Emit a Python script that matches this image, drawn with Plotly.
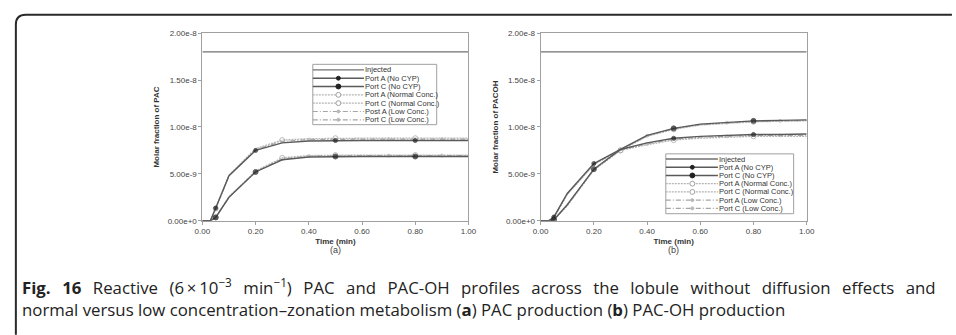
import plotly.graph_objects as go

W, H = 956, 335

# ---------------- data ----------------
time_min = [0.0, 0.03, 0.05, 0.1, 0.2, 0.3, 0.4, 0.5, 0.6, 0.7, 0.8, 0.9, 1.0]
injected_level = 1.8e-8

# Panel (a) PAC (units e-9)
pac_portA_nocyp = [0, 0, 1.35, 4.8, 7.5, 8.3, 8.5, 8.55, 8.55, 8.55, 8.55, 8.55, 8.55]
pac_portC_nocyp = [0, 0, 0.35, 2.5, 5.2, 6.5, 6.8, 6.85, 6.85, 6.85, 6.85, 6.85, 6.85]
pac_portA_normal = [0, 0, 1.3, 4.85, 7.7, 8.6, 8.75, 8.8, 8.8, 8.8, 8.8, 8.8, 8.8]
pac_portC_normal = [0, 0, 0.35, 2.55, 5.3, 6.7, 6.95, 7.0, 7.0, 7.0, 7.0, 7.0, 7.0]
pac_portA_low = [0, 0, 1.3, 4.8, 7.6, 8.45, 8.65, 8.7, 8.7, 8.7, 8.7, 8.7, 8.7]
pac_portC_low = [0, 0, 0.35, 2.5, 5.25, 6.6, 6.9, 6.95, 6.95, 6.95, 6.95, 6.95, 6.95]

# Panel (b) PAC-OH (units e-9)
pacoh_portA_nocyp = [0, 0, 0.4, 2.9, 6.1, 7.6, 8.3, 8.8, 9.0, 9.1, 9.2, 9.2, 9.25]
pacoh_portC_nocyp = [0, 0, 0.1, 1.7, 5.5, 7.6, 9.1, 9.85, 10.3, 10.5, 10.65, 10.7, 10.75]
pacoh_portA_normal = [0, 0, 0.3, 2.8, 6.0, 7.5, 8.1, 8.6, 8.8, 8.9, 9.0, 9.0, 9.0]
pacoh_portC_normal = [0, 0, 0.1, 1.6, 5.4, 7.5, 9.0, 9.75, 10.2, 10.4, 10.55, 10.6, 10.65]
pacoh_portA_low = [0, 0, 0.35, 2.85, 6.05, 7.55, 8.2, 8.7, 8.9, 9.0, 9.1, 9.1, 9.1]
pacoh_portC_low = [0, 0, 0.1, 1.65, 5.45, 7.55, 9.05, 9.8, 10.25, 10.45, 10.6, 10.65, 10.7]

series_names = ["Injected", "Port A (No CYP)", "Port C (No CYP)", "Port A (Normal Conc.)",
                "Port C (Normal Conc.)", "Post A (Low Conc.)", "Port C (Low Conc.)"]
series_names_b = ["Injected", "Port A (No CYP)", "Port C (No CYP)", "Port A (Normal Conc.)",
                  "Port C (Normal Conc.)", "Port A (Low Conc.)", "Port C (Low Conc.)"]

marker_times_nocyp = [0.05, 0.2, 0.5, 0.8]
marker_times_normal = [0.05, 0.3, 0.5, 0.8]
marker_times_low = [0.05, 0.4, 0.7, 0.9]

y_tickvals = [0, 5e-9, 1e-8, 1.5e-8, 2e-8]
y_ticktext = ["0.00e+0", "5.00e-9", "1.00e-8", "1.50e-8", "2.00e-8"]
x_tickvals = [0, 0.2, 0.4, 0.6, 0.8, 1.0]
x_ticktext = ["0.00", "0.20", "0.40", "0.60", "0.80", "1.00"]

caption_line1_words = ["<b>Fig.</b>", "<b>16</b>", "Reactive",
                       "(6\u2009×\u200910<sup>\u22123</sup>", "min<sup>\u22121</sup>)", "PAC", "and",
                       "PAC-OH", "profiles", "across", "the", "lobule", "without", "diffusion",
                       "effects", "and"]
caption_line2 = ("normal versus low concentration\u2013zonation metabolism (<b>a</b>) PAC production "
                 "(<b>b</b>) PAC-OH production")

# ---------------- styles ----------------
STY = {
    "inj": dict(color="#707070", width=1.3, dash="solid"),
    "nocyp": dict(color="#5a5a5a", width=1.4, dash="solid"),
    "normal": dict(color="#b4b4b4", width=1.3, dash="2px,1px"),
    "low": dict(color="#a6a6a6", width=1.2, dash="5px,2px,1px,2px"),
}
MK = {
    "nocypA": dict(symbol="circle", color="#222", size=4),
    "nocypC": dict(symbol="circle", color="#222", size=5),
    "normal": dict(symbol="circle-open", color="#a0a0a0", size=5),
    "low": dict(symbol="circle", color="#b8b8b8", size=3),
}


def px2x(p):
    return p / W


def px2y(p):
    return 1 - p / H


fig = go.Figure()


def sizes(times, size):
    return [size if any(abs(t - m) < 1e-9 for m in times) else 0 for t in time_min]


def add_panel(xa, ya, data):
    fig.add_trace(go.Scatter(x=[0, 1], y=[injected_level] * 2, mode="lines",
                             line=STY["inj"], xaxis=xa, yaxis=ya, showlegend=False))
    for vals, sty, mk, mt in data:
        fig.add_trace(go.Scatter(
            x=time_min, y=[v * 1e-9 for v in vals], mode="lines+markers",
            line=STY[sty],
            marker=dict(symbol=MK[mk]["symbol"], color=MK[mk]["color"],
                        size=sizes(mt, MK[mk]["size"]), line=dict(width=1, color=MK[mk]["color"])),
            xaxis=xa, yaxis=ya, showlegend=False))


add_panel("x", "y", [
    (pac_portA_normal, "normal", "normal", marker_times_normal),
    (pac_portC_normal, "normal", "normal", marker_times_normal),
    (pac_portA_low, "low", "low", marker_times_low),
    (pac_portC_low, "low", "low", marker_times_low),
    (pac_portA_nocyp, "nocyp", "nocypA", marker_times_nocyp),
    (pac_portC_nocyp, "nocyp", "nocypC", marker_times_nocyp),
])
add_panel("x2", "y2", [
    (pacoh_portA_normal, "normal", "normal", marker_times_normal),
    (pacoh_portC_normal, "normal", "normal", marker_times_normal),
    (pacoh_portA_low, "low", "low", marker_times_low),
    (pacoh_portC_low, "low", "low", marker_times_low),
    (pacoh_portA_nocyp, "nocyp", "nocypA", marker_times_nocyp),
    (pacoh_portC_nocyp, "nocyp", "nocypC", marker_times_nocyp),
])

axis_common = dict(showline=True, mirror=True, linecolor="#a0a0a0", linewidth=1,
                   ticks="outside", ticklen=3, tickcolor="#a0a0a0", showgrid=False,
                   zeroline=False, tickfont=dict(family="Liberation Sans, Arial", size=8, color="#444"))
title_font = dict(family="Liberation Sans, Arial", size=8, color="#333")

ya_dom = [px2y(222.7), px2y(30)]
fig.update_layout(
    width=W, height=H, margin=dict(l=0, r=0, t=0, b=0),
    paper_bgcolor="white", plot_bgcolor="white",
    xaxis=dict(domain=[px2x(197.7), px2x(468.3)], range=[0, 1], tickvals=x_tickvals, ticktext=x_ticktext,
               anchor="y", title=dict(text="<b>Time (min)</b>", font=title_font, standoff=3), **axis_common),
    yaxis=dict(domain=ya_dom, range=[0, 2e-8], tickvals=y_tickvals, ticktext=y_ticktext, anchor="x",
               title=dict(text="<b>Molar fraction of PAC</b>", font=title_font, standoff=6), **axis_common),
    xaxis2=dict(domain=[px2x(541.7), px2x(812.3)], range=[0, 1], tickvals=x_tickvals, ticktext=x_ticktext,
                anchor="y2", title=dict(text="<b>Time (min)</b>", font=title_font, standoff=3), **axis_common),
    yaxis2=dict(domain=ya_dom, range=[0, 2e-8], tickvals=y_tickvals, ticktext=y_ticktext, anchor="x2",
                title=dict(text="<b>Molar fraction of PACOH</b>", font=title_font, standoff=6), **axis_common),
)

shapes = []
annotations = []

# manual legends
legend_styles = [("inj", None), ("nocyp", "nocypA"), ("nocyp", "nocypC"), ("normal", "normal"),
                 ("normal", "normal"), ("low", "low"), ("low", "low")]


def add_legend(x0, x1, y0, y1, xtext, xmark, row0, dy, names):
    shapes.append(dict(type="rect", xref="paper", yref="paper", x0=px2x(x0), x1=px2x(x1),
                       y0=px2y(y1), y1=px2y(y0), line=dict(color="#a0a0a0", width=1),
                       fillcolor="white", layer="above"))
    for i, (name, (sty, mk)) in enumerate(zip(names, legend_styles)):
        yy = row0 + i * dy
        shapes.append(dict(type="line", xref="paper", yref="paper", x0=px2x(x0), x1=px2x(xtext),
                           y0=px2y(yy), y1=px2y(yy),
                           line=dict(color=STY[sty]["color"], width=STY[sty]["width"], dash=STY[sty]["dash"]),
                           layer="above"))
        if mk:
            r = MK[mk]["size"] / 2
            filled = MK[mk]["symbol"] == "circle"
            shapes.append(dict(type="circle", xref="paper", yref="paper",
                               x0=px2x(xmark - r), x1=px2x(xmark + r), y0=px2y(yy + r), y1=px2y(yy - r),
                               line=dict(color=MK[mk]["color"], width=1),
                               fillcolor=MK[mk]["color"] if filled else "white", layer="above"))
        annotations.append(dict(text=name, xref="paper", yref="paper", x=px2x(xtext - 1), y=px2y(yy),
                                xanchor="left", yanchor="middle", showarrow=False,
                                font=dict(family="Liberation Sans, Arial", size=7.5, color="#333")))


add_legend(310, 436, 62, 124, 362, 336, 67.7, 8.55, series_names)
add_legend(669, 799, 154, 215.5, 722, 696, 159.3, 8.45, series_names_b)

# panel labels
for txt, xp in [("(a)", 333), ("(b)", 677)]:
    annotations.append(dict(text=txt, xref="paper", yref="paper", x=px2x(xp), y=px2y(253),
                            xanchor="center", yanchor="middle", showarrow=False,
                            font=dict(family="Liberation Sans, Arial", size=9, color="#444")))

# caption (line 1 justified with widened word gaps)
cap_font = dict(family="Open Sans", size=16.8, color="#222")
annotations.append(dict(
    text=" \u00a0\u2009".join(caption_line1_words),
    xref="paper", yref="paper", x=px2x(12), y=px2y(290), xanchor="left", yanchor="middle",
    showarrow=False, font=cap_font))
annotations.append(dict(
    text=caption_line2,
    xref="paper", yref="paper", x=px2x(12), y=px2y(314), xanchor="left", yanchor="middle",
    showarrow=False, font=cap_font))

# outer frame with rounded top-left corner
rr = 10
path = (f"M {px2x(8)},{px2y(340)} L {px2x(8)},{px2y(11 + rr)} "
        f"Q {px2x(8)},{px2y(11)} {px2x(8 + rr)},{px2y(11)} L {px2x(960)},{px2y(11)}")
shapes.append(dict(type="path", xref="paper", yref="paper", path=path,
                   line=dict(color="#2a2a2a", width=2)))

fig.update_layout(shapes=shapes, annotations=annotations)
fig.write_html("out.html")
